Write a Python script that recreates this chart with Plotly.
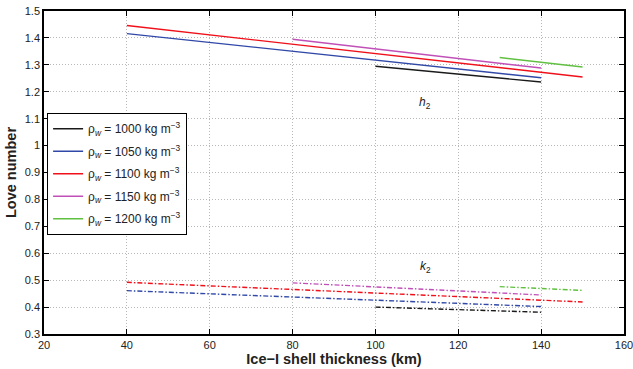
import plotly.graph_objects as go

densities = [1000, 1050, 1100, 1150, 1200]
colors = ["#1a1a1a", "#3048a8", "#f0101a", "#c050b8", "#60c040"]
# thickness ranges (km) for each density
x_start = [100, 40, 40, 80, 130]
x_end = [140, 140, 150, 140, 150]
# h2 values at start / end
h2_start = [1.295, 1.416, 1.446, 1.395, 1.327]
h2_end = [1.236, 1.252, 1.255, 1.288, 1.292]
# k2 values at start / end
k2_start = [0.400, 0.461, 0.492, 0.490, 0.476]
k2_end = [0.381, 0.402, 0.419, 0.445, 0.462]

y_ticks = [0.3, 0.4, 0.5, 0.6, 0.7, 0.8, 0.9, 1.0, 1.1, 1.2, 1.3, 1.4, 1.5]
y_ticktext = ["0.3", "0.4", "0.5", "0.6", "0.7", "0.8", "0.9", "1", "1.1", "1.2", "1.3", "1.4", "1.5"]

fig = go.Figure()
for i, d in enumerate(densities):
    xs = [x_start[i], x_end[i]]
    name = f"ρ<sub><i>w</i></sub> = {d} kg m<sup>−3</sup>"
    fig.add_trace(go.Scatter(x=xs, y=[h2_start[i], h2_end[i]], mode="lines",
                             line=dict(color=colors[i], width=1.4),
                             name=name, legendgroup=str(d)))
for i, d in enumerate(densities):
    xs = [x_start[i], x_end[i]]
    fig.add_trace(go.Scatter(x=xs, y=[k2_start[i], k2_end[i]], mode="lines",
                             line=dict(color=colors[i], width=1.4, dash="5px,2px,1.5px,2px"),
                             showlegend=False, legendgroup=str(d)))

fig.add_annotation(x=112, y=1.158, text="<i>h</i><sub>2</sub>", showarrow=False,
                   font=dict(size=12, color="#222"))
fig.add_annotation(x=112, y=0.55, text="<i>k</i><sub>2</sub>", showarrow=False,
                   font=dict(size=12, color="#222"))

axis_common = dict(showline=True, linecolor="black", linewidth=1.5, mirror="ticks",
                   ticks="inside", ticklen=5, tickcolor="black", tickwidth=1,
                   showgrid=True, gridcolor="#b8b8b8", griddash="1px,2px", gridwidth=1,
                   zeroline=False, tickfont=dict(size=11, color="#222"),
                   ticklabeloverflow="allow")

fig.update_xaxes(range=[20, 160], dtick=20,
                 title=dict(text="<b>Ice−I shell thickness (km)</b>", font=dict(size=14.5, color="#222"), standoff=3),
                 **axis_common)
fig.update_yaxes(range=[0.3, 1.5], tickvals=y_ticks, ticktext=y_ticktext,
                 title=dict(text="<b>Love number</b>", font=dict(size=14.5, color="#222"), standoff=5),
                 **axis_common)

fig.update_layout(
    width=633, height=369,
    margin=dict(l=44, r=9, t=11, b=35, autoexpand=False),
    paper_bgcolor="white", plot_bgcolor="white",
    font=dict(family="Liberation Sans, Arial, sans-serif", color="#222"),
    legend=dict(x=0.005, y=0.684, xanchor="left", yanchor="top",
                bgcolor="white", bordercolor="black", borderwidth=1.2,
                font=dict(size=12, color="#222"), tracegroupgap=3.5,
                itemwidth=30),
)

fig.write_html("out.html", config={"displayModeBar": False},
               post_script="document.body.style.margin='0';document.body.style.padding='0';")
